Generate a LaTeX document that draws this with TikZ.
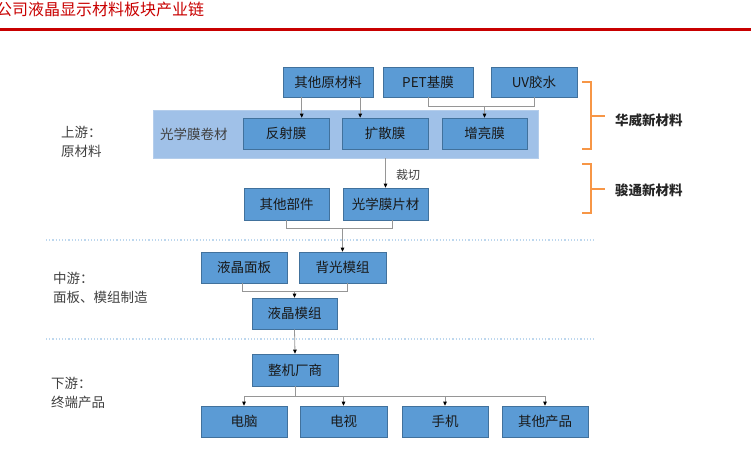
\documentclass[tikz,border=0pt]{standalone}
\usepackage{fontspec}
\setmainfont{Noto Sans CJK SC}
\usetikzlibrary{arrows.meta,calc}
\definecolor{boxfill}{RGB}{91,155,213}
\definecolor{boxline}{RGB}{65,113,156}
\definecolor{bandfill}{RGB}{160,193,232}
\definecolor{bandline}{RGB}{180,205,235}
\definecolor{connc}{RGB}{150,150,150}
\definecolor{bracec}{RGB}{247,150,70}
\definecolor{titlered}{RGB}{200,0,0}
\definecolor{labelc}{RGB}{64,64,64}
\definecolor{dotc}{RGB}{189,215,238}
\tikzset{
  box/.style={draw=boxline, fill=boxfill, line width=0.6pt, minimum height=31pt,
    inner sep=0pt, font=\fontsize{13.5}{16}\selectfont, text=black!90},
  conn/.style={draw=connc, line width=0.8pt},
  arr/.style={conn, -{Triangle[length=4pt,width=3.5pt,color=black]}},
  brace/.style={draw=bracec, line width=1.1pt},
  sidelabel/.style={font=\fontsize{13.5}{19}\selectfont, text=labelc, align=left, anchor=west, inner sep=0pt},
  rightlabel/.style={font=\fontsize{13.5}{16}\selectfont\bfseries, text=black!85, anchor=west, inner sep=0pt},
  sep/.style={draw=dotc, line width=1.2pt, dotted}
}
\begin{document}
\begin{tikzpicture}[x=1pt,y=-1pt]
\useasboundingbox (0,0) rectangle (751,467);
% title
\node[anchor=west, inner sep=0pt, font=\fontsize{16}{18}\selectfont, text=titlered] (title) at (-4,9) {公司液晶显示材料板块产业链};
\draw[titlered, line width=2.3pt] (0,29.5) -- (751,29.5);
% separators
\draw[sep] (46,240) -- (596,240);
\draw[sep] (46,339) -- (596,339);
% band
\node[draw=bandline, fill=bandfill, line width=0.6pt, minimum width=385pt, minimum height=48pt, inner sep=0pt] (band) at (345.5,134) {};
\node[anchor=west, inner sep=0pt, font=\fontsize{13.5}{16}\selectfont, text=labelc] (bandlabel) at (160,134) {光学膜卷材};
% top row
\node[box, minimum width=90pt, minimum height=30pt] (oth) at (328,82) {其他原材料};
\node[box, minimum width=90pt, minimum height=30pt] (pet) at (428,82) {PET基膜};
\node[box, minimum width=86pt, minimum height=30pt] (uv) at (534,82) {UV胶水};
% films
\node[box, minimum width=86pt] (fs) at (286,133.5) {反射膜};
\node[box, minimum width=86pt] (ks) at (385,133.5) {扩散膜};
\node[box, minimum width=85pt] (zl) at (484.5,133.5) {增亮膜};
% parts
\node[box, minimum width=85pt, minimum height=32pt] (qtbj) at (286.5,204) {其他部件};
\node[box, minimum width=85pt, minimum height=32pt] (gxmp) at (385.5,204) {光学膜片材};
% midstream
\node[box, minimum width=86pt] (ypmb) at (244,267.5) {液晶面板};
\node[box, minimum width=87pt] (bgmz) at (342.5,267.5) {背光模组};
\node[box, minimum width=85pt] (ypmz) at (294.5,313.5) {液晶模组};
% downstream
\node[box, minimum width=86pt, minimum height=32pt] (zjcs) at (295,370) {整机厂商};
\node[box, minimum width=86pt] (dn) at (244,421.5) {电脑};
\node[box, minimum width=87pt] (ds) at (343.5,421.5) {电视};
\node[box, minimum width=86pt] (sj) at (445,421.5) {手机};
\node[box, minimum width=86pt] (qtcp) at (545,421.5) {其他产品};
% left labels
\node[sidelabel] (up) at (61,142) {上游：\\原材料};
\node[sidelabel] (mid) at (53,288) {中游：\\面板、模组制造};
\node[sidelabel] (down) at (51,392.5) {下游：\\终端产品};
% right labels and braces
\node[rightlabel] (hw) at (615,120) {华威新材料};
\node[rightlabel] (jt) at (615,190) {骏通新材料};
\draw[brace] (582,82) -- (591,82) -- (591,149) -- (582,149);
\draw[brace] (591,116) -- (605,116);
\draw[brace] (582,164) -- (591,164) -- (591,213) -- (582,213);
\draw[brace] (591,189) -- (605,189);
% connectors: raw materials to films
\coordinate (o1) at ($(oth.south west)!0.21!(oth.south east)$);
\coordinate (o2) at ($(oth.south west)!0.855!(oth.south east)$);
\draw[arr] (o1) -- (o1 |- fs.north);
\draw[arr] (o2) -- (o2 |- ks.north);
\coordinate (pu) at ($(pet.south)+(0,9)$);
\draw[conn] (pet.south) -- (pu) -| (uv.south);
\draw[arr] (zl.north |- pu) -- (zl.north);
% band to sheets
\draw[arr] (gxmp.north |- band.south) -- (gxmp.north);
\node[anchor=west, inner sep=0pt, font=\fontsize{12}{14}\selectfont, text=labelc] (cq) at (396,175) {裁切};
% sheets to backlight
\coordinate (j1) at ($(qtbj.south)+(0,8)$);
\draw[conn] (qtbj.south) -- (j1) -| ($(gxmp.south)+(7,0)$);
\draw[arr] (bgmz.north |- j1) -- (bgmz.north);
% panels to module
\coordinate (j2) at ($(ypmb.south)+(-2,8)$);
\draw[conn] ($(ypmb.south)+(-2,0)$) -- (j2) -| ($(bgmz.south)+(4.5,0)$);
\draw[arr] (ypmz.north |- j2) -- (ypmz.north);
% module to OEM
\draw[arr] (ypmz.south) -- (zjcs.north);
% OEM to products
\coordinate (j3) at ($(zjcs.south)+(0,10)$);
\draw[conn] (zjcs.south) -- (j3);
\draw[conn] (dn.north |- j3) -- (qtcp.north |- j3);
\draw[arr] (dn.north |- j3) -- (dn.north);
\draw[arr] (ds.north |- j3) -- (ds.north);
\draw[arr] (sj.north |- j3) -- (sj.north);
\draw[arr] (qtcp.north |- j3) -- (qtcp.north);
\end{tikzpicture}
\end{document}
